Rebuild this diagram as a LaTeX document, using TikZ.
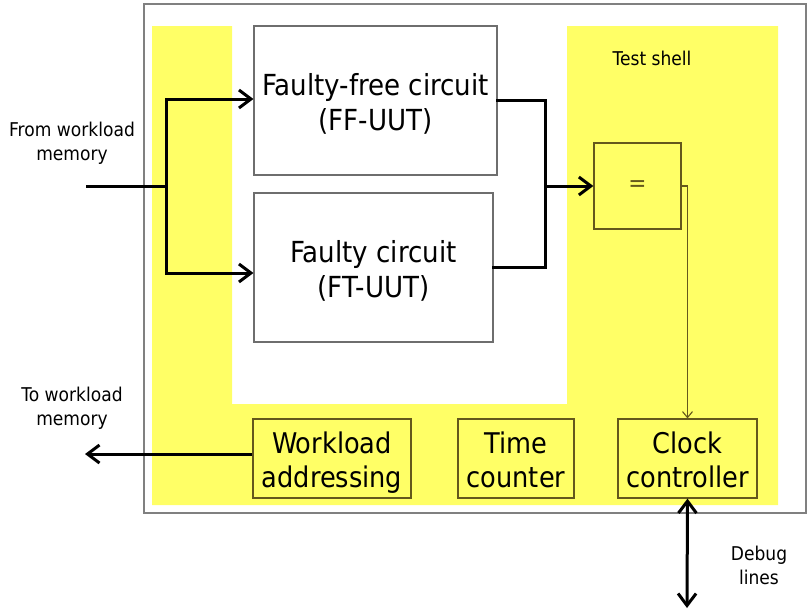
\documentclass[tikz,border=0pt]{standalone}
\usepackage{fontspec}
\setmainfont{DejaVu Sans}[FakeStretch=0.9]
\usetikzlibrary{arrows.meta}

\definecolor{shellyellow}{RGB}{255,255,102}
\definecolor{framegray}{RGB}{128,128,128}
\definecolor{boxgray}{RGB}{110,110,110}
\definecolor{olive}{RGB}{100,88,28}

% two centred lines, lowered a little inside their box (box size kept)
\newcommand{\boxtext}[1]{\raisebox{-5pt}[\height][\depth]{\begin{tabular}{@{}c@{}}#1\end{tabular}}}

\tikzset{
  whitebox/.style={draw=boxgray, line width=1.1pt, fill=white, inner sep=0pt,
    align=center, font=\fontsize{29}{35}\selectfont},
  shellbox/.style={draw=olive, line width=1.2pt, fill=shellyellow, inner sep=0pt,
    align=center, font=\fontsize{28.5}{34}\selectfont},
  label/.style={align=center, inner sep=0pt, font=\fontsize{19}{24}\selectfont},
  bus/.style={line width=3pt, line cap=rect},
  busarrow/.style={line width=3pt, -{Straight Barb[length=12pt, width=18pt]}},
  busboth/.style={line width=3pt, {Straight Barb[length=12pt, width=18pt]}-{Straight Barb[length=12pt, width=18pt]}},
  sigarrow/.style={draw=olive, line width=1.1pt, -{Straight Barb[length=6pt, width=10pt]}},
}

\begin{document}
\begin{tikzpicture}[x=1pt, y=-1pt]
  \useasboundingbox (0,0) rectangle (807,611);

  % outer frame
  \draw[framegray, line width=1.5pt] (144,4) rectangle (806,513);

  % test shell area (U shape around the units under test)
  \fill[shellyellow] (152,26) -- (232,26) -- (232,404) -- (567,404) -- (567,26)
    -- (778,26) -- (778,505) -- (152,505) -- cycle;

  \node[label] (shell) at (652,58) {Test shell};

  % units under test
  \node[whitebox, minimum width=243pt, minimum height=149pt] (ff) at (375.5,100.5)
    {\boxtext{Faulty-free circuit\\(FF-UUT)}};
  \node[whitebox, minimum width=239pt, minimum height=149pt] (ft) at (373.5,267.5)
    {\boxtext{Faulty circuit\\(FT-UUT)}};

  % comparator
  \node[shellbox, minimum width=87pt, minimum height=86pt,
        font=\fontsize{24}{24}\selectfont, text=olive] (cmp) at (637.5,186) {=};

  % shell blocks
  \node[shellbox, minimum width=158pt, minimum height=79pt] (wl) at (332,458.5)
    {\boxtext{Workload\\addressing}};
  \node[shellbox, minimum width=116pt, minimum height=79pt] (tc) at (516,458.5)
    {\boxtext{Time\\counter}};
  \node[shellbox, minimum width=139pt, minimum height=79pt] (clk) at (687.5,458.5)
    {\boxtext{Clock\\controller}};

  % external labels
  \node[label] (from) at (72,143) {From workload\\memory};
  \node[label] (to) at (72,408) {To workload\\memory};
  \node[label] (debug) at (759,565) {Debug\\lines};

  % helper points
  \coordinate (src) at (87,186);
  \coordinate (fork) at (166,186);
  \coordinate (merge) at (545,186);
  \coordinate (tomem) at (85,454);
  \coordinate (dbg) at (687,608);

  % workload input fan-out
  \draw[bus] (src) -- (fork);
  \draw[busarrow] (fork) |- ([yshift=1.5pt]ff.west);
  \draw[busarrow] (fork) |- ([yshift=-5.5pt]ft.west);

  % outputs to comparator
  \draw[bus] (ff.east) -| (merge);
  \draw[bus] (ft.east) -| (merge);
  \draw[busarrow] (merge) -- (cmp.west);

  % comparator result to clock controller
  \draw[sigarrow] (cmp.east) -| (clk.north);

  % workload addressing back to memory
  \draw[busarrow] ([yshift=4.5pt]wl.west) -- (tomem);

  % debug lines
  \draw[busboth] (clk.south) -- (dbg);
\end{tikzpicture}
\end{document}
